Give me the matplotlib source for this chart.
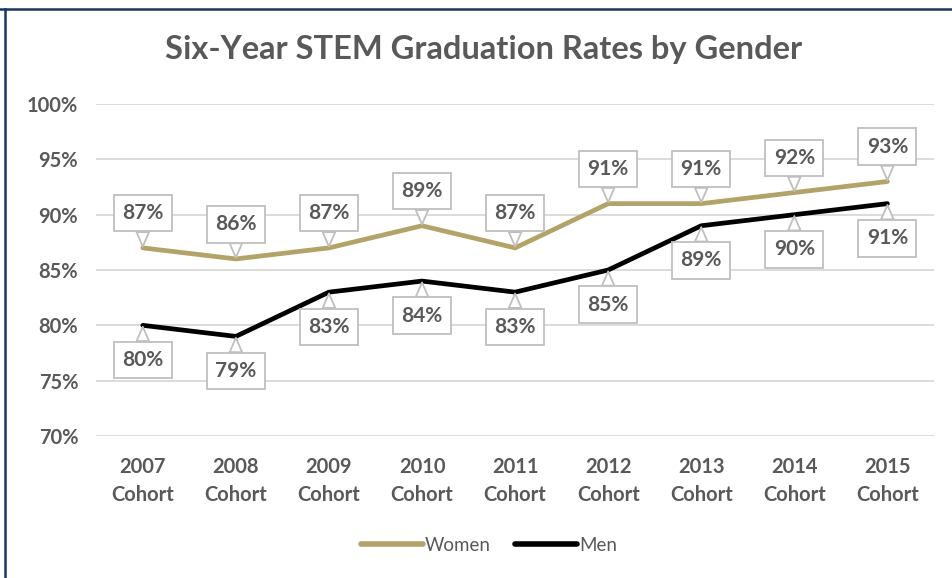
import matplotlib.pyplot as plt
from matplotlib.lines import Line2D

# cohorts and six-year STEM graduation rates (%)
cohorts = ['2007\nCohort', '2008\nCohort', '2009\nCohort', '2010\nCohort', '2011\nCohort',
           '2012\nCohort', '2013\nCohort', '2014\nCohort', '2015\nCohort']
women = [87, 86, 87, 89, 87, 91, 91, 92, 93]
men = [80, 79, 83, 84, 83, 85, 89, 90, 91]
yticks = [70, 75, 80, 85, 90, 95, 100]

GOLD = '#B3A369'
GRAY = '#595959'
plt.rcParams['font.family'] = ['Lato', 'DejaVu Sans']

fig = plt.figure(figsize=(9.53, 5.78), dpi=100)
ax = fig.add_axes([0.101, 0.2457, 0.879, 0.5743])

x = list(range(len(cohorts)))
ax.plot(x, women, color=GOLD, lw=3.4, label='Women', solid_capstyle='round', zorder=3)
ax.plot(x, men, color='black', lw=3.4, label='Men', solid_capstyle='round', zorder=3)

ax.set_xlim(-0.5, len(cohorts) - 0.5)
ax.set_ylim(70, 100)
ax.set_yticks(yticks)
ax.set_yticklabels([f'{t}%' for t in yticks])
ax.set_xticks(x)
ax.set_xticklabels(cohorts, linespacing=1.5)
ax.grid(axis='y', color='#D9D9D9', lw=1.3)
ax.set_axisbelow(True)
for s in ax.spines.values():
    s.set_visible(False)
ax.tick_params(length=0, labelsize=14.5, labelcolor=GRAY, pad=13)
ax.tick_params(axis='x', pad=15)
for lab in ax.get_xticklabels() + ax.get_yticklabels():
    lab.set_fontweight('bold')


def callout(xi, yi, dy):
    ax.annotate(f'{yi}%', (xi, yi), xytext=(0, dy), textcoords='offset points',
                ha='center', va='center', fontsize=15, fontweight='bold', color=GRAY,
                bbox=dict(boxstyle='square,pad=0.4', fc='white', ec='#BFBFBF', lw=1.3),
                arrowprops=dict(arrowstyle='wedge,tail_width=0.6', fc='white',
                                ec='#BFBFBF', lw=1.3, shrinkA=0, shrinkB=1),
                zorder=5)


for xi, yi in zip(x, women):
    callout(xi, yi, 25)
for xi, yi in zip(x, men):
    callout(xi, yi, -25)

fig.suptitle('Six-Year STEM Graduation Rates by Gender', x=0.507, y=0.94,
             fontsize=23.5, fontweight='bold', color=GRAY)

leg = fig.legend(loc='center', bbox_to_anchor=(0.513, 0.057), ncol=2, frameon=False,
                 fontsize=13.5, handlelength=3.3, handletextpad=0.1, columnspacing=1.3)
for t in leg.get_texts():
    t.set_color(GRAY)
for h in leg.get_lines():
    h.set_linewidth(4)

# frame lines on the top and left edge
fig.add_artist(Line2D([0, 1], [1 - 8.5 / 578] * 2, transform=fig.transFigure,
                      color='#17375E', lw=1.8))
fig.add_artist(Line2D([4.5 / 953] * 2, [0, 1 - 8.5 / 578], transform=fig.transFigure,
                      color='#17375E', lw=1.8))

fig.savefig('out.png', dpi=100)
